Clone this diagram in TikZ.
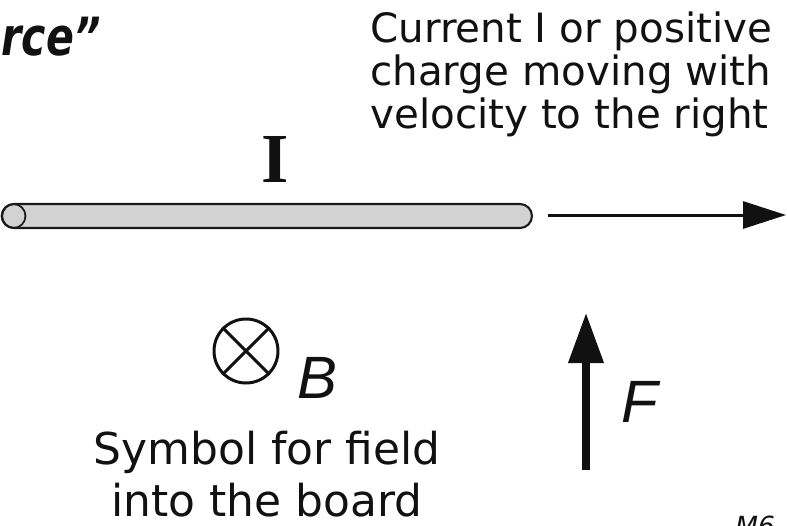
\documentclass[tikz,border=0pt]{standalone}
\usepackage{fontspec}
\setmainfont{DejaVu Sans}
\newfontfamily\serifbold{Liberation Serif}
\newfontfamily\vecfont{Liberation Sans}
\usetikzlibrary{arrows.meta,positioning}
\definecolor{crod}{HTML}{D2D2D2}
\definecolor{crodborder}{HTML}{1A1A1A}
\definecolor{cink}{HTML}{111111}

\begin{document}
\begin{tikzpicture}[
    x=0.02cm, y=-0.02cm,
    txt/.style={inner sep=0pt, align=left, text=cink, font=\fontsize{23}{24.5}\selectfont},
    captxt/.style={inner sep=0pt, align=center, text=cink, font=\fontsize{25}{29.6}\selectfont},
    vecname/.style={inner sep=0pt, text=cink, font=\vecfont\itshape\fontsize{34}{34}\selectfont},
    rod/.style={draw=crodborder, fill=crod, line width=1.2pt, rounded corners=0.24cm,
                minimum width=10.6cm, minimum height=0.48cm, inner sep=0pt},
    varr/.style={-{Triangle[length=8.6mm,width=5.4mm]}, line width=1.7pt, draw=cink},
    farr/.style={-{Triangle[length=10mm,width=6.8mm]}, line width=4pt, draw=cink}
]
\useasboundingbox (0,0) rectangle (787,525);
\clip (0,0) rectangle (787,525);
% heading, cut at the left edge
\node[inner sep=0pt, anchor=base east, text=cink,
      font=\bfseries\itshape\fontsize{30}{30}\selectfont] (title) at (101,55) {\scalebox{0.78}[1]{rce”}};
\node[txt, anchor=north west] (current) at (370,11)
    {Current I or positive\\charge moving with\\velocity to the right};
% the wire
\node[rod] (wire) at (267,216) {};
\draw[crodborder, line width=1pt] ([xshift=0.25cm]wire.west) circle (0.24cm);
\node[inner sep=0pt, anchor=base, text=cink, font=\serifbold\bfseries\fontsize{40}{40}\selectfont]
    (ilabel) at (275,182) {I};
\coordinate (vstart) at (548,215);
\coordinate (vend) at (786,215);
\draw[varr] (vstart) -- (vend);
% field into the board
\node[circle, draw=cink, line width=1.7pt, minimum size=1.28cm, inner sep=0pt] (bsym) at (246,351) {};
\draw[cink, line width=1.7pt] (bsym.north west) -- (bsym.south east)
                              (bsym.north east) -- (bsym.south west);
\node[vecname, anchor=base west] (bname) at (297,398) {B};
\node[captxt, anchor=north] (bcap) at (267,431) {Symbol for field\\into the board};
% force
\coordinate (fbase) at (586,470);
\coordinate (ftip) at (586,313);
\draw[farr] (fbase) -- (ftip);
\node[vecname, anchor=base west] (fname) at (621,422) {F};
\node[inner sep=0pt, anchor=north west, text=cink, font=\itshape\fontsize{15}{15}\selectfont]
    (slide) at (735,516) {M6};
\end{tikzpicture}
\end{document}
